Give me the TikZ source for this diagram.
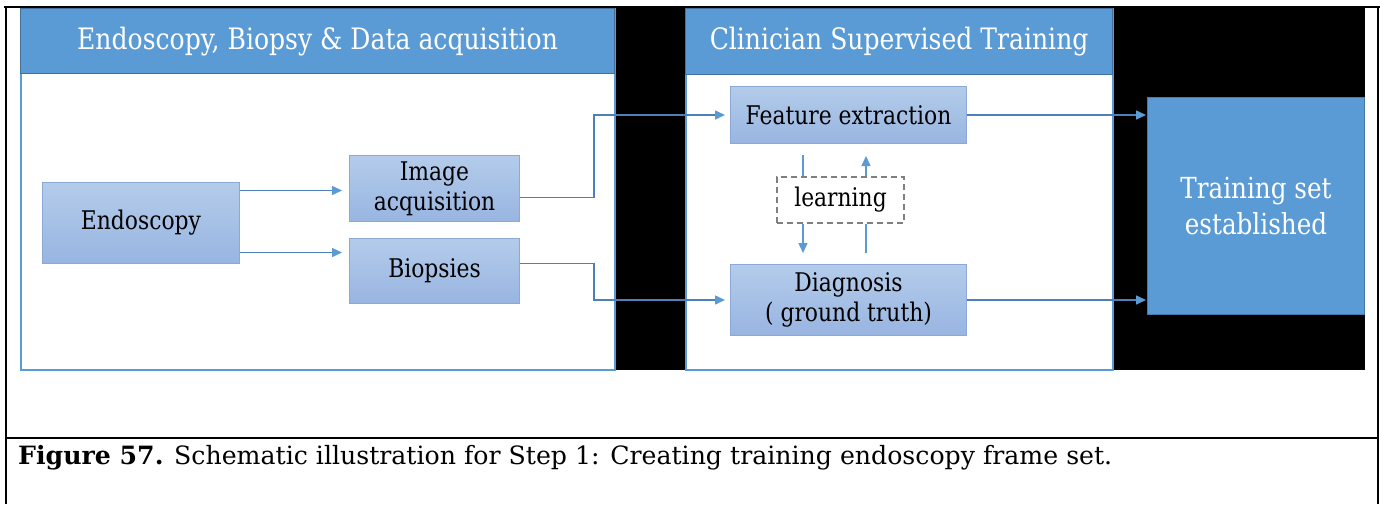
\documentclass[tikz,border=0pt]{standalone}
\usepackage{fontspec}
\setmainfont{DejaVu Serif}
\newfontfamily\slidefont[FakeStretch=0.85]{DejaVu Serif}
\usetikzlibrary{arrows.meta, positioning, calc}
\definecolor{headblue}{HTML}{5B9BD5}
\definecolor{headedge}{HTML}{41719C}
\definecolor{boxtop}{HTML}{B4CCEB}
\definecolor{boxbot}{HTML}{98B5E1}
\definecolor{boxedge}{HTML}{8CA9D6}
\definecolor{linkblue}{HTML}{4F7FBA}
\definecolor{tipblue}{HTML}{5B9BD5}
\definecolor{dashgrey}{HTML}{7F7F7F}
\tikzset{
  panelhead/.style={rectangle, draw=headedge, fill=headblue, text=white, line width=1.2pt,
    font=\slidefont\fontsize{29.5}{33}\selectfont, inner sep=0pt, anchor=north west},
  panelbody/.style={rectangle, draw=headblue, fill=white, line width=1.5pt, inner sep=0pt, anchor=north west},
  block/.style={rectangle, draw=boxedge, top color=boxtop, bottom color=boxbot, line width=1pt,
    align=center, text=black, font=\slidefont\fontsize{25.7}{30}\selectfont, inner sep=0pt, anchor=north west},
  trainbox/.style={rectangle, draw=headedge!80!headblue, fill=headblue, line width=1pt, text=white,
    align=center, font=\slidefont\fontsize{29}{36}\selectfont, inner sep=0pt, anchor=north west},
  learnbox/.style={rectangle, draw=dashgrey, dashed, dash pattern=on 6pt off 4pt, line width=1.2pt,
    fill=white, font=\slidefont\fontsize{25.7}{30}\selectfont, inner sep=0pt},
  link/.style={-{Triangle[length=10pt, width=9pt, color=tipblue]}, line width=1.5pt, linkblue},
  lline/.style={line width=1.5pt, tipblue},
  larrow/.style={-{Triangle[length=10pt, width=9pt]}, line width=1.5pt, tipblue},
  rule/.style={line width=2.6pt, black},
}
\begin{document}
\begin{tikzpicture}[x=1pt, y=-1pt]
\useasboundingbox (0,0) rectangle (1380,504);
\fill[black] (20,7) rectangle (1365,370);
\draw[rule] (4,7) -- (1380,7);
\draw[rule] (6,7) -- (6,504);
\draw[rule] (1378,7) -- (1378,504);
\draw[rule] (6,438) -- (1378,438);

\node[panelbody, minimum width=594, minimum height=361] (acqpanel) at (20,8) {};
\node[panelhead, minimum width=594, minimum height=65] (acqhead) at (20,8) {Endoscopy, Biopsy \& Data acquisition};
\node[panelbody, minimum width=427, minimum height=361] (trainpanel) at (685,8) {};
\node[panelhead, minimum width=427, minimum height=66] (trainhead) at (685,8) {Clinician Supervised Training};

\node[block, minimum width=197, minimum height=81] (endo) at (42,182) {Endoscopy};
\node[block, minimum width=170, minimum height=66] (imgacq) at (349,155) {Image\\acquisition};
\node[block, minimum width=170, minimum height=65, below=16pt of imgacq] (biop) {Biopsies};
\node[block, minimum width=236, minimum height=57] (feat) at (730,86) {Feature extraction};
\node[block, minimum width=236, minimum height=71, below=120pt of feat] (diag) {Diagnosis\\( ground truth)};
\node[learnbox, minimum width=127, minimum height=46] (learn) at (840.5,200) {learning};
\node[trainbox, minimum width=217, minimum height=217] (train) at (1147,97) {Training set\\established};

\coordinate (dnx) at (803,0);
\coordinate (upx) at (866,0);

\draw[link, shorten >=7pt] ([yshift=32.5pt]endo.east) -- ([yshift=32.5pt]endo.east -| imgacq.west);
\draw[link, shorten >=7pt] ([yshift=-29.5pt]endo.east) -- ([yshift=-29.5pt]endo.east -| biop.west);
\draw[link, shorten >=5pt] ([yshift=-9pt]imgacq.east) -- ++(74,0) |- (feat.west);
\draw[link, shorten >=5pt] ([yshift=7.5pt]biop.east) -- ++(74,0) |- (diag.west);
\draw[link, shorten >=1pt] (feat.east) -- (feat.east -| train.west);
\draw[link, shorten >=1pt] (diag.east) -- (diag.east -| train.west);
\draw[lline, shorten <=11pt] (dnx |- feat.south) -- (dnx |- learn.north);
\draw[larrow, shorten >=11pt] (dnx |- learn.south) -- (dnx |- diag.north);
\draw[lline, shorten <=11pt] (upx |- diag.north) -- (upx |- learn.south);
\draw[larrow, shorten >=12pt] (upx |- learn.north) -- (upx |- feat.south);

\node[anchor=base west, font=\fontsize{25.2}{29}\selectfont, inner sep=0pt] (caption) at (18,464)
  {\textbf{Figure 57.} Schematic illustration for Step 1: Creating training endoscopy frame set.};
\end{tikzpicture}
\end{document}
